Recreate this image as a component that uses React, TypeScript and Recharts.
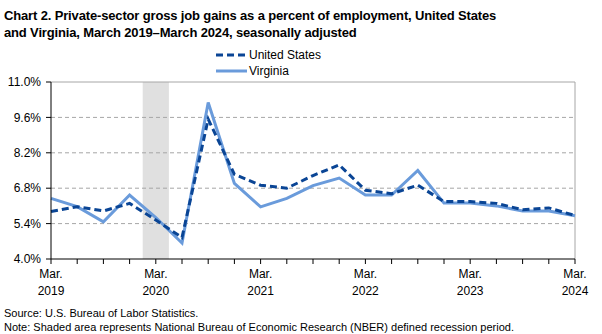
import React from "react";
import {
  LineChart,
  Line,
  XAxis,
  YAxis,
  ReferenceLine,
  ReferenceArea,
} from "recharts";

const quarters = [
  "Mar 2019", "Jun 2019", "Sep 2019", "Dec 2019",
  "Mar 2020", "Jun 2020", "Sep 2020", "Dec 2020",
  "Mar 2021", "Jun 2021", "Sep 2021", "Dec 2021",
  "Mar 2022", "Jun 2022", "Sep 2022", "Dec 2022",
  "Mar 2023", "Jun 2023", "Sep 2023", "Dec 2023",
  "Mar 2024",
];

const unitedStates = [
  5.88, 6.07, 5.9, 6.2, 5.54, 4.85, 9.53, 7.35, 6.92, 6.8, 7.3,
  7.72, 6.72, 6.58, 6.92, 6.27, 6.27, 6.2, 5.95, 6.02, 5.72,
];

const virginia = [
  6.4, 6.07, 5.47, 6.53, 5.64, 4.63, 10.19, 6.99, 6.06, 6.4, 6.9,
  7.2, 6.53, 6.53, 7.5, 6.21, 6.21, 6.1, 5.9, 5.9, 5.71,
];

const yTicks = [4.0, 5.4, 6.8, 8.2, 9.6, 11.0];
const gridValues = [5.4, 6.8, 8.2, 9.6];
const recession = [3.5, 4.5];

const data = quarters.map((q, i) => ({
  idx: i,
  quarter: q,
  us: unitedStates[i],
  va: virginia[i],
}));

const font = "'Liberation Sans', Arial, sans-serif";
const usColor = "#0a4595";
const vaColor = "#6a9bdb";

function XTick(props: any) {
  const { x, y, payload } = props;
  const i = payload.value;
  if (i % 4 !== 0) return null;
  const [m, yr] = quarters[i].split(" ");
  return (
    <text x={x} y={y} textAnchor="middle" fontSize={12} fill="#000" fontFamily={font}>
      <tspan x={x} dy={12}>{m + "."}</tspan>
      <tspan x={x} dy={17}>{yr}</tspan>
    </text>
  );
}

export default function App() {
  return (
    <div style={{ position: "absolute", left: 0, top: 0, width: 602, height: 334, background: "#fff", fontFamily: font }}>
      <div style={{ position: "absolute", left: 4, top: 7, fontSize: 13, fontWeight: "bold", lineHeight: "17px", color: "#000", width: 600, letterSpacing: -0.15 }}>
        Chart 2. Private-sector gross job gains as a percent of employment, United States
        <br />
        and Virginia, March 2019–March 2024, seasonally adjusted
      </div>
      <svg style={{ position: "absolute", left: 216, top: 47 }} width={130} height={34}>
        <line x1={0} y1={8} x2={31} y2={8} stroke={usColor} strokeWidth={3} strokeDasharray="7 4" />
        <text x={33} y={12} fontSize={12} fontFamily={font} fill="#000">United States</text>
        <line x1={0} y1={24} x2={31} y2={24} stroke={vaColor} strokeWidth={3} />
        <text x={33} y={28} fontSize={12} fontFamily={font} fill="#000">Virginia</text>
      </svg>
      <div style={{ position: "absolute", left: 0, top: 0 }}>
        <LineChart
          width={602}
          height={334}
          data={data}
          margin={{ top: 82, right: 27, bottom: 0, left: 0 }}
        >
          <ReferenceArea x1={recession[0]} x2={recession[1]} y1={4} y2={11} fill="#e0e0e0" fillOpacity={1} stroke="none" />
          {gridValues.map((v) => (
            <ReferenceLine key={v} y={v} stroke="#a6a6a6" strokeDasharray="4 3" />
          ))}
          <ReferenceLine y={11} stroke="#a6a6a6" />
          <ReferenceLine x={20} stroke="#a6a6a6" />
          <XAxis
            dataKey="idx"
            type="number"
            domain={[0, 20]}
            ticks={data.map((d) => d.idx)}
            interval={0}
            tick={<XTick />}
            tickSize={5}
            height={75}
            stroke="#000"
            tickLine={{ stroke: "#000" }}
          />
          <YAxis
            width={51}
            domain={[4, 11]}
            ticks={yTicks}
            interval={0}
            tickFormatter={(v: number) => v.toFixed(1) + "%"}
            tick={{ fontSize: 12, fill: "#000", fontFamily: font, dx: -3 }}
            tickSize={5}
            stroke="#000"
          />
          <Line
            dataKey="va"
            name="Virginia"
            stroke={vaColor}
            strokeWidth={3}
            dot={false}
            isAnimationActive={false}
          />
          <Line
            dataKey="us"
            name="United States"
            stroke={usColor}
            strokeWidth={3}
            strokeDasharray="7 4"
            dot={false}
            isAnimationActive={false}
          />
        </LineChart>
      </div>
      <div style={{ position: "absolute", left: 4, top: 306, fontSize: 11, lineHeight: "14px", color: "#000" }}>
        Source: U.S. Bureau of Labor Statistics.
        <br />
        Note: Shaded area represents National Bureau of Economic Research (NBER) defined recession period.
      </div>
    </div>
  );
}
